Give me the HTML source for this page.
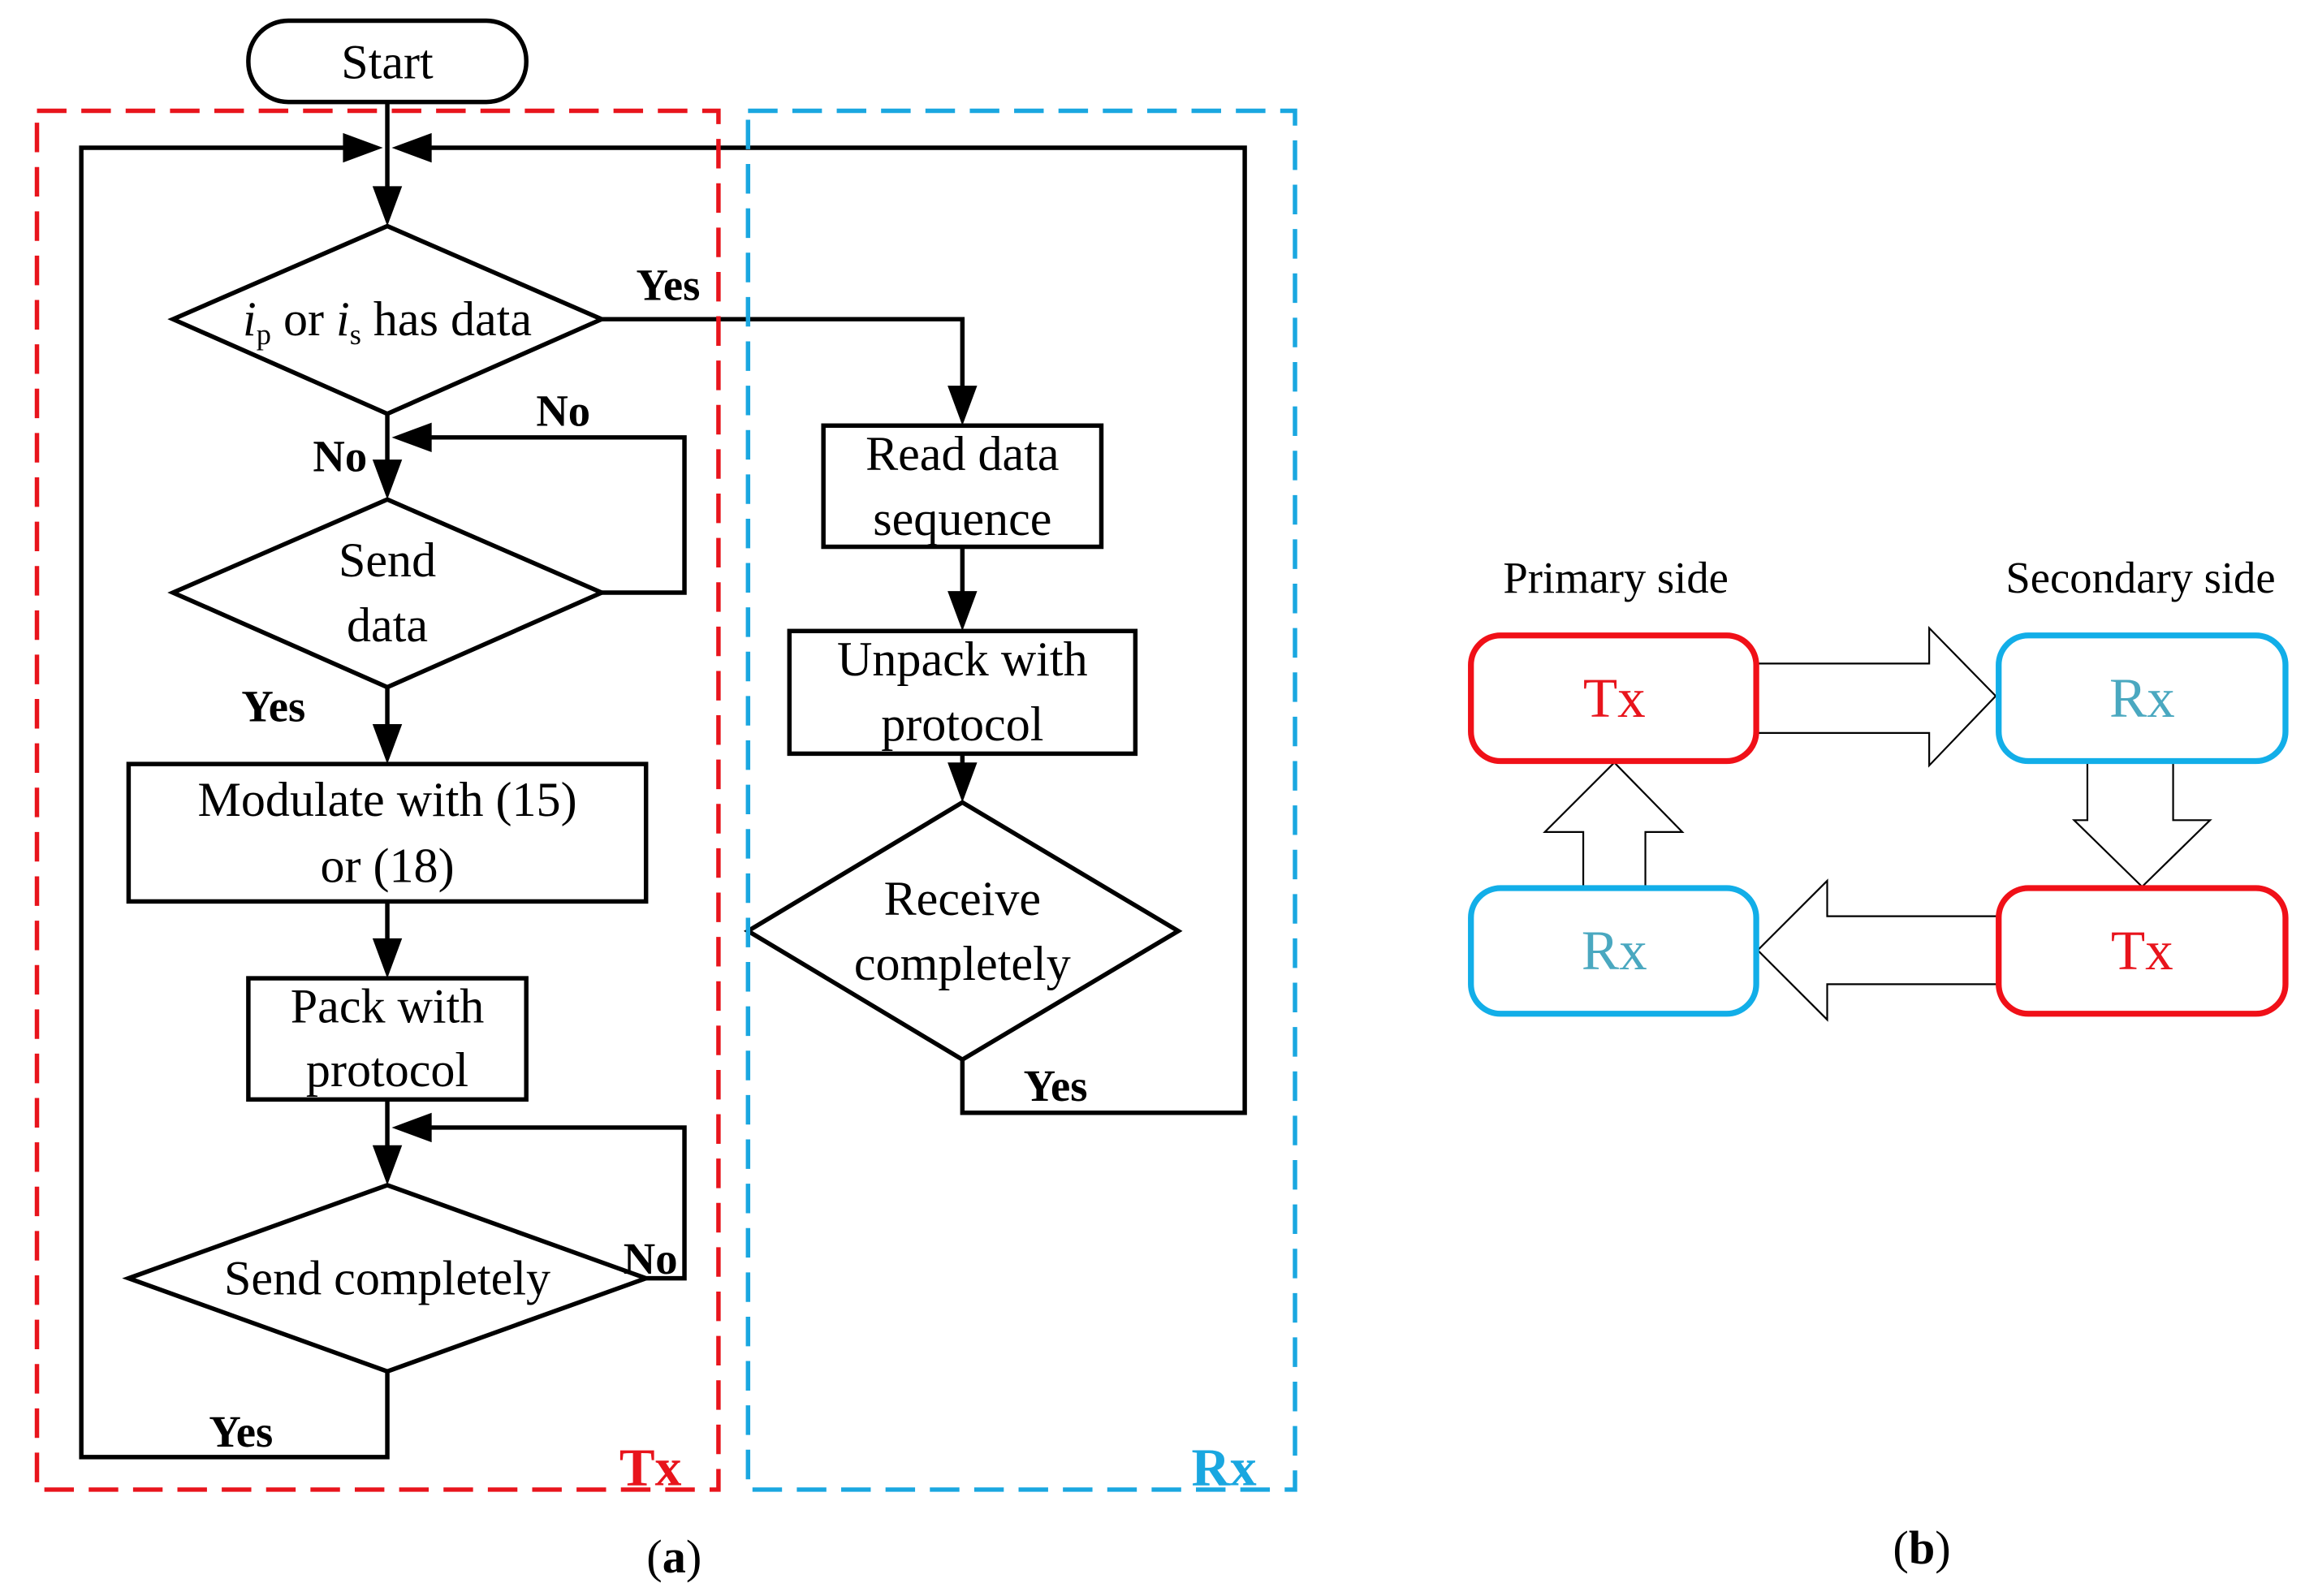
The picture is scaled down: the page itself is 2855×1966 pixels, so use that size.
<!DOCTYPE html>
<html><head><meta charset="utf-8"><style>html,body{margin:0;padding:0;background:#fff}svg{display:block}</style></head>
<body>
<svg width="2855" height="1966" viewBox="0 0 1568 1080" preserveAspectRatio="none" xmlns="http://www.w3.org/2000/svg" font-family="'Liberation Serif', serif">
<defs>
<marker id="ar" markerWidth="10" markerHeight="10" refX="9" refY="5" orient="auto" markerUnits="userSpaceOnUse" viewBox="0 0 10 10">
</marker>
</defs>
<g fill="none" stroke="#000" stroke-width="3">
<rect x="168" y="14" width="188" height="55" rx="27"/>
<polygon points="117,216 262,153 407,216 262,280"/>
<polygon points="117,401 262,338 407,401 262,465"/>
<polygon points="87,865 262,802 437,865 262,928"/>
<polygon points="506,630 651,543 797,630 651,717"/>
<rect x="557" y="288" width="188" height="82"/>
<rect x="534" y="427" width="234" height="83"/>
<rect x="87" y="517" width="350" height="93"/>
<rect x="168" y="662" width="188" height="82"/>
<polyline points="262,69 262,140"/>
<polyline points="262,928 262,986 55,986 55,100 245,100"/>
<polyline points="651,717 651,753 842,753 842,100 280,100"/>
<polyline points="407,216 651,216 651,272"/>
<polyline points="651,370 651,412"/>
<polyline points="651,510 651,530"/>
<polyline points="262,280 262,325"/>
<polyline points="407,401 463,401 463,296 280,296"/>
<polyline points="262,465 262,503"/>
<polyline points="262,610 262,648"/>
<polyline points="262,744 262,788"/>
<polyline points="437,865 463,865 463,763 280,763"/>
</g>
<g fill="#000">
<polygon points="262,153 252,126 272,126"/>
<polygon points="259,100 232,90 232,110"/>
<polygon points="265,100 292,90 292,110"/>
<polygon points="651,288 641,261 661,261"/>
<polygon points="651,427 641,400 661,400"/>
<polygon points="651,543 641,516 661,516"/>
<polygon points="262,338 252,311 272,311"/>
<polygon points="265,296 292,286 292,306"/>
<polygon points="262,517 252,490 272,490"/>
<polygon points="262,662 252,635 272,635"/>
<polygon points="262,802 252,775 272,775"/>
<polygon points="265,763 292,753 292,773"/>
</g>
<g fill="none" stroke-width="3" stroke-dasharray="20,10">
<rect x="25" y="75" width="461" height="933" stroke="#e8141c"/>
<rect x="506" y="75" width="370" height="933" stroke="#1aa7e0"/>
</g>
<g font-size="33" text-anchor="middle" fill="#000">
<text x="262" y="53">Start</text>
<text x="262" y="227"><tspan font-style="italic">i</tspan><tspan font-size="20" dy="6">p</tspan><tspan dy="-6"> or </tspan><tspan font-style="italic">i</tspan><tspan font-size="20" dy="6">s</tspan><tspan dy="-6"> has data</tspan></text>
<text x="262" y="390">Send</text>
<text x="262" y="434">data</text>
<text x="262" y="552">Modulate with (15)</text>
<text x="262" y="597">or (18)</text>
<text x="262" y="692">Pack with</text>
<text x="262" y="735">protocol</text>
<text x="262" y="876">Send completely</text>
<text x="651" y="318">Read data</text>
<text x="651" y="362">sequence</text>
<text x="651" y="457">Unpack with</text>
<text x="651" y="501">protocol</text>
<text x="651" y="619">Receive</text>
<text x="651" y="663">completely</text>
</g>
<g font-size="30" font-weight="bold" text-anchor="middle" fill="#000">
<text x="452" y="203">Yes</text>
<text x="381" y="288">No</text>
<text x="230" y="319">No</text>
<text x="185" y="488">Yes</text>
<text x="440" y="862">No</text>
<text x="163" y="979">Yes</text>
<text x="714" y="745">Yes</text>
</g>
<text x="440" y="1005" font-size="36" font-weight="bold" text-anchor="middle" fill="#e8141c">Tx</text>
<text x="828" y="1005" font-size="36" font-weight="bold" text-anchor="middle" fill="#1aa7e0">Rx</text>
<text x="456" y="1064" font-size="32" text-anchor="middle">(<tspan font-weight="bold">a</tspan>)</text>
<text x="1300" y="1058" font-size="32" text-anchor="middle">(<tspan font-weight="bold">b</tspan>)</text>
<text x="1093" y="401" font-size="30" text-anchor="middle">Primary  side</text>
<text x="1448" y="401" font-size="30" text-anchor="middle">Secondary  side</text>
<g fill="#fff" stroke="#000" stroke-width="1.2">
<polygon points="1188,449 1305,449 1305,425 1350,471 1305,518 1305,496 1188,496"/>
<polygon points="1412,515 1470,515 1470,555 1495,555 1449,600 1403,555 1412,555"/>
<polygon points="1352,620 1236,620 1236,596 1189,643 1236,690 1236,666 1352,666"/>
<polygon points="1071,600 1113,600 1113,563 1138,563 1092,516 1045,563 1071,563"/>
</g>
<g fill="none" stroke-width="4">
<rect x="995" y="430" width="193" height="85" rx="20" stroke="#f01018"/>
<rect x="1352" y="430" width="194" height="85" rx="20" stroke="#12aee8"/>
<rect x="995" y="601" width="193" height="85" rx="20" stroke="#12aee8"/>
<rect x="1352" y="601" width="194" height="85" rx="20" stroke="#f01018"/>
</g>
<g font-size="38" text-anchor="middle">
<text x="1092" y="485" fill="#e8141c">Tx</text>
<text x="1449" y="485" fill="#4aa8c0">Rx</text>
<text x="1092" y="656" fill="#4aa8c0">Rx</text>
<text x="1449" y="656" fill="#e8141c">Tx</text>
</g>
</svg>
</body></html>
